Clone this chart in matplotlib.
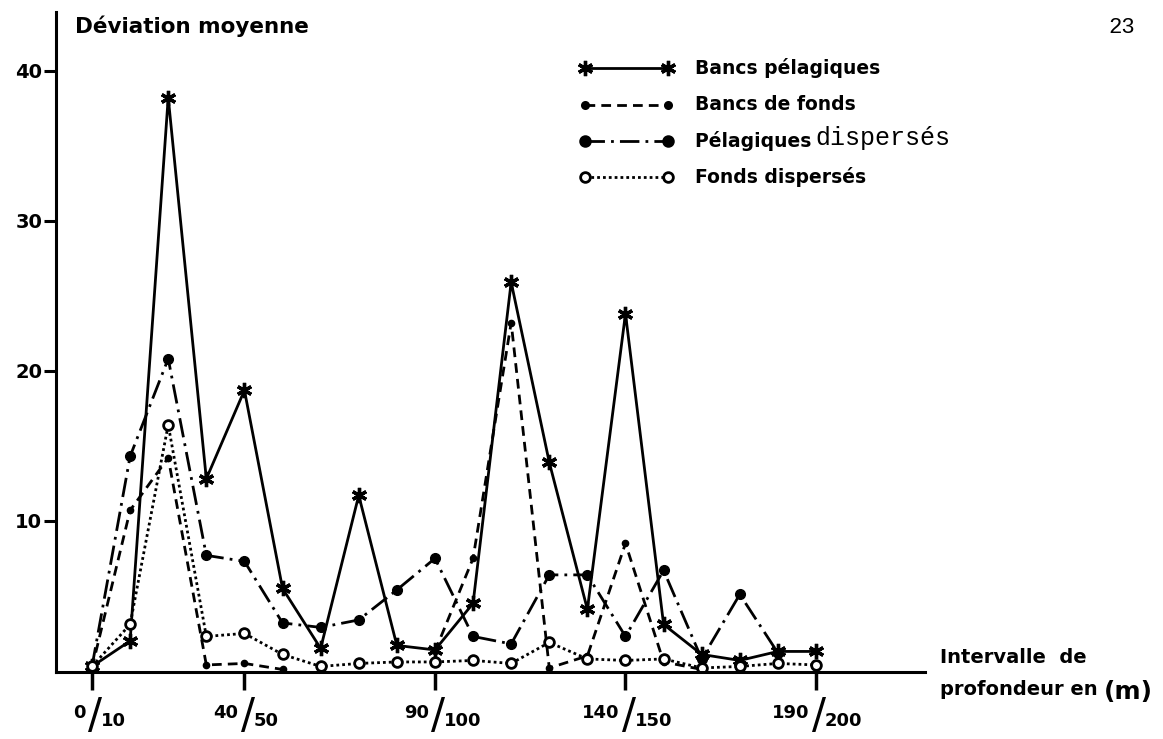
import numpy as np
import matplotlib
matplotlib.use('Agg')
import matplotlib.pyplot as plt
from matplotlib.lines import Line2D

nan = np.nan

# depth intervals (start of each 10 m interval)
depth = [0, 10, 20, 30, 40, 50, 60, 70, 80, 90, 100, 110, 120, 130, 140, 150, 160, 170, 180, 190]

# mean deviation per interval
bancs_pelagiques = [0.3, 2.0, 38.2, 12.8, 18.7, 5.5, 1.5, 11.7, 1.7, 1.4,
                    4.5, 25.9, 13.9, 4.1, 23.8, 3.1, 1.1, 0.7, 1.3, 1.3]
bancs_fonds = [0.2, 10.7, 14.2, 0.4, 0.5, 0.1, nan, nan, nan, 1.3,
               7.5, 23.2, 0.2, 1.0, 8.5, 0.6, 0.1, nan, nan, nan]
pelagiques_disperses = [0.3, 14.3, 20.8, 7.7, 7.3, 3.2, 2.9, 3.4, 5.4, 7.5,
                        2.3, 1.8, 6.4, 6.4, 2.3, 6.7, 0.8, 5.1, 1.2, nan]
fonds_disperses = [0.3, 3.1, 16.4, 2.3, 2.5, 1.1, 0.3, 0.5, 0.6, 0.6,
                   0.7, 0.5, 1.9, 0.8, 0.7, 0.8, 0.2, 0.3, 0.5, 0.4]

tick_depths = [0, 40, 90, 140, 190]
tick_num = ['0', '40', '90', '140', '190']
tick_den = ['10', '50', '100', '150', '200']
y_ticks = [10, 20, 30, 40]

bold_font = ['DejaVu Sans']
mono_font = ['Liberation Mono', 'DejaVu Sans Mono']

W, H = 1163, 739
fig = plt.figure(figsize=(W / 100, H / 100), dpi=100)
ax = fig.add_axes([56 / W, 1 - 672 / H, (925 - 56) / W, (672 - 12) / H])

star = (6, 2, 0)
lw = 2.0

ax.plot(depth, bancs_pelagiques, color='black', lw=lw, ls='-',
        marker=star, ms=11, mew=2.4)
ax.plot(depth, bancs_fonds, color='black', lw=lw, ls=(0, (3.5, 2.2)),
        marker='o', ms=4.5)
ax.plot(depth, pelagiques_disperses, color='black', lw=lw, ls=(0, (7, 2.2, 1, 2.2)),
        marker='o', ms=7)
ax.plot(depth, fonds_disperses, color='black', lw=lw, ls=(0, (1, 1.1)),
        marker='o', ms=7, mfc='white', mew=2)

ax.set_xlim(-9.45, 218.6)
ax.set_ylim(-0.07, 43.9)

for s in ['top', 'right']:
    ax.spines[s].set_visible(False)
for s in ['left', 'bottom']:
    ax.spines[s].set_linewidth(2.2)

ax.set_yticks(y_ticks)
ax.set_yticklabels([str(v) for v in y_ticks], fontsize=14, fontweight='bold',
                   family=bold_font)
ax.tick_params(axis='y', direction='out', length=9, width=2.2, pad=1)

ax.set_xticks(tick_depths)
ax.set_xticklabels([])
ax.tick_params(axis='x', direction='out', length=13, width=2.5)

# fraction style tick labels: 0/10, 40/50 ...
for d, num, den in zip(tick_depths, tick_num, tick_den):
    ax.annotate(num, xy=(d, 0), xycoords=('data', 'axes fraction'),
                xytext=(-4.5, -29.5), textcoords='offset points',
                ha='right', va='center', fontsize=13, fontweight='bold', family=bold_font)
    ax.annotate('/', xy=(d, 0), xycoords=('data', 'axes fraction'),
                xytext=(2.5, -31.5), textcoords='offset points',
                ha='center', va='center', fontsize=30, family=['DejaVu Sans'])
    ax.annotate(den, xy=(d, 0), xycoords=('data', 'axes fraction'),
                xytext=(6.5, -35), textcoords='offset points',
                ha='left', va='center', fontsize=13, fontweight='bold', family=bold_font)

# titles
fig.text(75 / W, 1 - 33 / H, 'Déviation moyenne', fontsize=15.5, fontweight='bold',
         family=bold_font, ha='left', va='baseline')
fig.text(1108 / W, 1 - 33 / H, '23', fontsize=16, family=mono_font,
         ha='left', va='baseline')
fig.text(940 / W, 1 - 663 / H, 'Intervalle  de', fontsize=14, fontweight='bold',
         family=bold_font, ha='left', va='baseline')
fig.text(940 / W, 1 - 695 / H, 'profondeur en', fontsize=14, fontweight='bold',
         family=bold_font, ha='left', va='baseline')
fig.text(1104 / W, 1 - 692 / H, '(m)', fontsize=18, fontweight='bold',
         family=bold_font, ha='left', va='center')

# hand drawn style legend
legend_rows = [
    ('Bancs pélagiques', '-', star, 11, 'black'),
    ('Bancs de fonds', (0, (3.5, 2.2)), 'o', 4.5, 'black'),
    ('Pélagiques ', (0, (7, 2.2, 1, 2.2)), 'o', 7, 'black'),
    ('Fonds dispersés', (0, (1, 1.1)), 'o', 7, 'white'),
]
row_y = [68, 105, 141, 177]
for (label, ls, mk, ms, mfc), yp in zip(legend_rows, row_y):
    yf = 1 - yp / H
    line = Line2D([585 / W, 668 / W], [yf, yf], transform=fig.transFigure,
                  color='black', lw=lw, ls=ls, marker=mk, ms=ms, mfc=mfc,
                  mew=2.4 if mk == star else 2)
    fig.add_artist(line)
    fig.text(695 / W, yf, label, fontsize=13.5, fontweight='bold',
             family=bold_font, ha='left', va='center')
    if label.startswith('Pélagiques'):
        fig.text(815 / W, yf + 3 / H, 'dispersés', fontsize=18,
                 family=mono_font, ha='left', va='center')

fig.savefig('out.png', dpi=100)
